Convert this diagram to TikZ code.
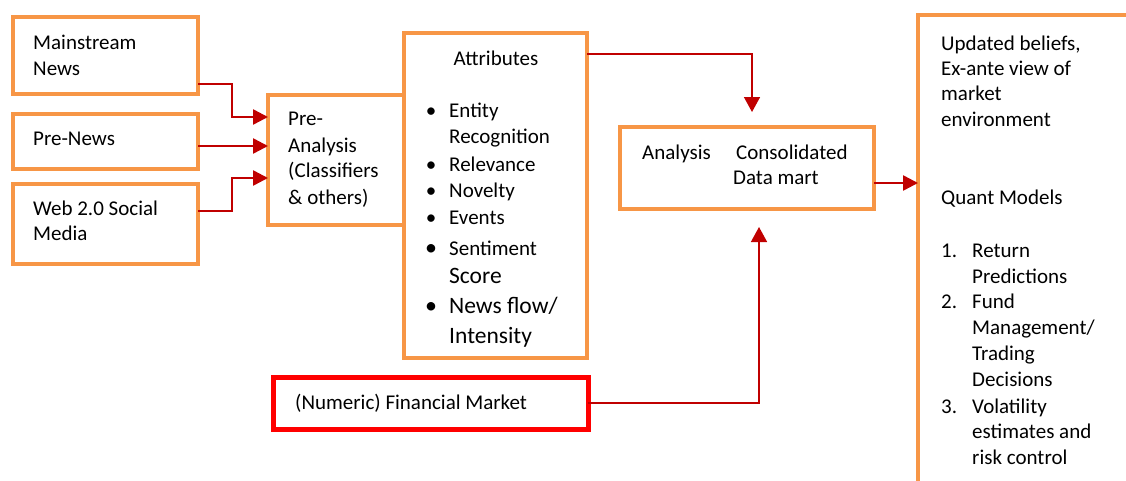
\documentclass[tikz,border=0pt]{standalone}
\usepackage{fontspec}
\setmainfont{Carlito}
\usetikzlibrary{arrows.meta}
\definecolor{boxorange}{HTML}{F79646}
\definecolor{arrowred}{HTML}{C00000}
\definecolor{marketred}{HTML}{FF0000}
\begin{document}
\begin{tikzpicture}[x=1pt,y=-1pt,
  box/.style={draw=boxorange, line width=4pt, rectangle, outer sep=0pt, inner sep=0pt, anchor=north west},
  txt/.style={anchor=base west, inner sep=0pt, font=\fontsize{21}{26}\selectfont},
  bigtxt/.style={txt, font=\fontsize{23.5}{29}\selectfont},
  bul/.style={anchor=base, inner sep=0pt, font=\fontsize{21}{26}\selectfont},
  bigbul/.style={bul, font=\fontsize{24}{29}\selectfont},
  flow/.style={draw=arrowred, line width=2.5pt, -{Triangle[length=15pt,width=15pt]}},
  thinflow/.style={draw=arrowred, line width=1.5pt, -{Triangle[length=15pt,width=16pt]}}]
\useasboundingbox (0,0) rectangle (1126,480);
\clip (0,0) rectangle (1126,480);

% boxes
\node[box, minimum width=185pt, minimum height=77pt] (ms) at (13,17) {};
\node[box, minimum width=185pt, minimum height=55pt] (pn) at (13,114) {};
\node[box, minimum width=185pt, minimum height=80pt] (web) at (13,184) {};
\node[box, minimum width=136pt, minimum height=130pt] (pre) at (268,95) {};
\node[box, minimum width=183pt, minimum height=325pt] (attr) at (404,33) {};
\node[box, minimum width=254pt, minimum height=82pt] (anl) at (620,127) {};
\node[box, minimum width=260pt, minimum height=500pt] (out) at (918,15) {};
\node[box, draw=marketred, line width=5pt, minimum width=315pt, minimum height=52pt] (mkt) at (273,377) {};

% source texts
\node[txt] (ms1) at (33,49) {Mainstream};
\node[txt] (ms2) at (33,75) {News};
\node[txt] (pn1) at (33,145) {Pre-News};
\node[txt] (wb1) at (33,215) {Web 2.0 Social};
\node[txt] (wb2) at (33,240) {Media};

% pre-analysis
\node[txt] (pa1) at (288,125) {Pre-};
\node[txt] (pa2) at (288,152) {Analysis};
\node[txt] (pa3) at (288,177) {(Classifiers};
\node[txt] (pa4) at (288,204) {\& others)};

% attributes list
\node[txt, anchor=base] (at0) at (496,65) {Attributes};
\node[bul] (b1) at (431,117) {•};
\node[txt] (at1) at (449,117) {Entity};
\node[txt] (at2) at (449,143) {Recognition};
\node[bul] (b2) at (431,171) {•};
\node[txt] (at3) at (449,171) {Relevance};
\node[bul] (b3) at (431,197) {•};
\node[txt] (at4) at (449,197) {Novelty};
\node[bul] (b4) at (431,224) {•};
\node[txt] (at5) at (449,224) {Events};
\node[bigbul] (b5) at (431,255) {•};
\node[txt] (at6) at (449,255) {Sentiment};
\node[bigtxt] (at7) at (449,283) {Score};
\node[bigbul] (b6) at (431,313) {•};
\node[bigtxt] (at8) at (449,313) {News flow/};
\node[bigtxt] (at9) at (449,343) {Intensity};

% analysis
\node[txt] (an1) at (642,159) {Analysis};
\node[txt] (an2) at (736,159) {Consolidated};
\node[txt] (an3) at (733,184) {Data mart};

% market data
\node[txt] (mk1) at (295,409) {(Numeric) Financial Market};

% outputs
\node[txt] (o1) at (941,50) {Updated beliefs,};
\node[txt] (o2) at (941,75) {Ex-ante view of};
\node[txt] (o3) at (941,100) {market};
\node[txt] (o4) at (941,126) {environment};
\node[txt] (o5) at (941,204) {Quant Models};
\node[txt] (n1) at (941,257) {1.};
\node[txt] (o6) at (972,257) {Return};
\node[txt] (o7) at (972,283) {Predictions};
\node[txt] (n2) at (941,308) {2.};
\node[txt] (o8) at (972,308) {Fund};
\node[txt] (o9) at (972,334) {Management/};
\node[txt] (o10) at (972,360) {Trading};
\node[txt] (o11) at (972,386) {Decisions};
\node[txt] (n3) at (941,413) {3.};
\node[txt] (o12) at (972,413) {Volatility};
\node[txt] (o13) at (972,438) {estimates and};
\node[txt] (o14) at (972,464) {risk control};

% connectors
\coordinate (anlin) at (752,112);
\coordinate (mktin) at (759,227);
\draw[flow] (ms.east |- 0,84) -- (232,84) -- (232,117) -- (pre.west |- 0,117);
\draw[flow] (pn.east |- 0,146) -- (pre.west |- 0,146);
\draw[flow] (web.east |- 0,211) -- (232,211) -- (232,178) -- (pre.west |- 0,178);
\draw[thinflow] (attr.east |- 0,54) -| (anlin);
\draw[thinflow] (mkt.east) -| (mktin);
\draw[flow] (anl.east |- 0,183) -- (out.west |- 0,183);
\end{tikzpicture}
\end{document}
